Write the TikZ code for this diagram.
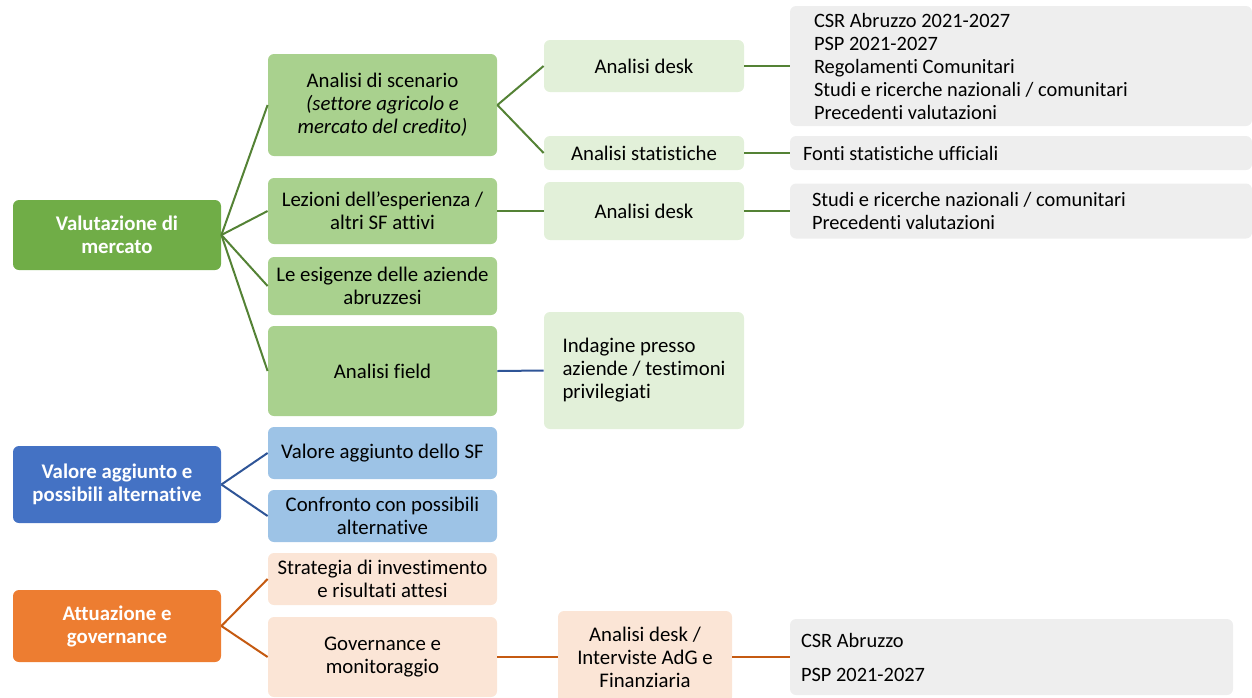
\documentclass[tikz,border=0pt]{standalone}
\usepackage{fontspec}
\setmainfont{Carlito}[Ligatures={TeX,NoCommon}]
\definecolor{verdeA}{HTML}{70AD47}
\definecolor{verdeB}{HTML}{A9D18E}
\definecolor{verdeC}{HTML}{E2F0D9}
\definecolor{verdeL}{HTML}{548235}
\definecolor{bluA}{HTML}{4472C4}
\definecolor{bluB}{HTML}{9DC3E6}
\definecolor{bluL}{HTML}{2F5597}
\definecolor{aranA}{HTML}{ED7D31}
\definecolor{aranB}{HTML}{FBE5D6}
\definecolor{aranL}{HTML}{C55A11}
\definecolor{grigio}{HTML}{EEEEEE}
\begin{document}
\begin{tikzpicture}[x=0.5pt,y=-0.5pt,
  every node/.style={font=\fontsize{10.4}{11.5}\selectfont,rounded corners=3pt,inner sep=0pt,align=center},
  radice/.style={fill=#1,text=white,font=\fontsize{10.4}{11.5}\selectfont\bfseries,minimum width=104pt},
  ramo/.style={fill=#1,minimum width=114.5pt},
  metodo/.style={fill=#1,minimum width=100pt},
  fonte/.style={fill=grigio,align=flush left,font=\fontsize{10.2}{11.5}\selectfont},
  linea/.style={draw=#1,line width=1pt}]
\useasboundingbox (0,0) rectangle (1252,697);
\clip (0,0) rectangle (1252,697);
% radici
\node[radice=verdeA,minimum height=35pt] (valmer) at (117,235) {Valutazione di\\mercato};
\node[radice=bluA,minimum height=38.5pt] (valagg) at (117,484.5) {Valore aggiunto e\\possibili alternative};
\node[radice=aranA,minimum height=36pt] (attgov) at (117,626) {Attuazione e\\governance};
% rami
\node[ramo=verdeB,minimum height=51pt] (scen) at (382.5,105) {Analisi di scenario\\\textit{(settore agricolo e}\\\textit{mercato del credito)}};
\node[ramo=verdeB,minimum height=33pt] (lez) at (382.5,211) {Lezioni dell’esperienza /\\altri SF attivi};
\node[ramo=verdeB,minimum height=29pt] (esig) at (382.5,286) {Le esigenze delle aziende\\abruzzesi};
\node[ramo=verdeB,minimum height=45pt] (field) at (382.5,371) {Analisi field};
\node[ramo=bluB,minimum height=26pt] (vasf) at (382.5,453) {Valore aggiunto dello SF};
\node[ramo=bluB,minimum height=26pt] (confr) at (382.5,516) {Confronto con possibili\\alternative};
\node[ramo=aranB,minimum height=26pt] (strat) at (382.5,579) {Strategia di investimento\\e risultati attesi};
\node[ramo=aranB,minimum height=40pt] (gov) at (382.5,657) {Governance e\\monitoraggio};
% metodi
\node[metodo=verdeC,minimum height=26pt] (desk1) at (644,66) {Analisi desk};
\node[metodo=verdeC,minimum height=17pt] (stat) at (644,153) {Analisi statistiche};
\node[metodo=verdeC,minimum height=29pt] (desk2) at (644,211) {Analisi desk};
\node[metodo=verdeC,minimum height=58.5pt,align=left] (indag) at (644,370.5) {Indagine presso\\aziende / testimoni\\privilegiati};
\node[metodo=aranB,minimum width=87pt,minimum height=46pt] (deskint) at (645,657) {Analisi desk /\\Interviste AdG e\\Finanziaria};
% fonti
\node[fonte,minimum height=60pt,inner xsep=12pt,text width=207pt] (src1) at (1021,66) {CSR Abruzzo 2021-2027\\PSP 2021-2027\\Regolamenti Comunitari\\Studi e ricerche nazionali / comunitari\\Precedenti valutazioni};
\node[fonte,minimum height=17pt,inner xsep=6.5pt,text width=218pt] (src2) at (1021,153) {Fonti statistiche ufficiali};
\node[fonte,minimum height=27.5pt,inner xsep=11pt,text width=209pt] (src3) at (1021,211) {Studi e ricerche nazionali / comunitari\\Precedenti valutazioni};
\node[fonte,minimum height=38pt,inner xsep=5.5pt,text width=210.5pt] (src4) at (1011.5,657) {CSR Abruzzo\\[5.5pt]PSP 2021-2027};
% connettori
\foreach \n in {scen,lez,esig,field} \draw[linea=verdeL] (valmer.east) -- (\n.west);
\foreach \n in {desk1,stat} \draw[linea=verdeL] (scen.east) -- (\n.west);
\foreach \a/\b in {lez/desk2,desk1/src1,stat/src2,desk2/src3} \draw[linea=verdeL] (\a.east) -- (\b.west);
\draw[linea=bluL] (field.east) -- (indag.west);
\foreach \n in {vasf,confr} \draw[linea=bluL] (valagg.east) -- (\n.west);
\foreach \n in {strat,gov} \draw[linea=aranL] (attgov.east) -- (\n.west);
\foreach \a/\b in {gov/deskint,deskint/src4} \draw[linea=aranL] (\a.east) -- (\b.west);
\end{tikzpicture}
\end{document}
